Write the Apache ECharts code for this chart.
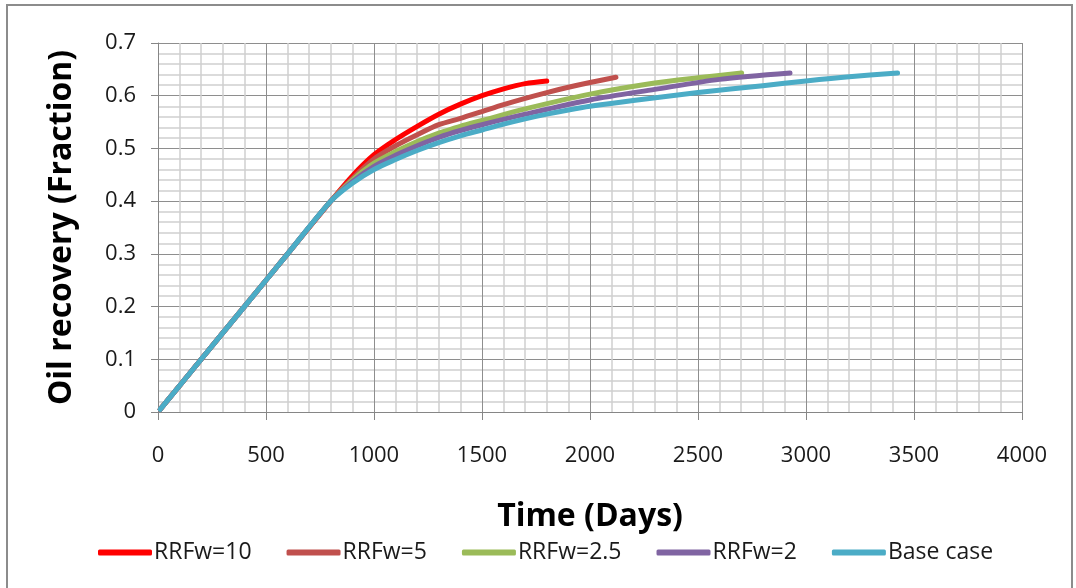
<!DOCTYPE html>
<html><head><meta charset="utf-8">
<script src="https://cdn.jsdelivr.net/npm/echarts@6/dist/echarts.min.js"></script>
<style>html,body{margin:0;padding:0;background:#fff}#c{width:1076px;height:588px}</style>
</head><body><div id="c"></div>
<script>
const seriesNames = ['RRFw=10','RRFw=5','RRFw=2.5','RRFw=2','Base case'];
const colors = ['#FF0000','#C0504D','#9BBB59','#8064A2','#4BACC6'];
const xTicks = [0,500,1000,1500,2000,2500,3000,3500,4000];
const yTicks = [0,0.1,0.2,0.3,0.4,0.5,0.6,0.7];

const daysRRF10 = [10,200,400,600,800,900,1000,1100,1200,1300,1400,1500,1600,1700,1800];
const recRRF10  = [0.005,0.1,0.2,0.3,0.4,0.448,0.488,0.517,0.542,0.565,0.584,0.600,0.613,0.623,0.628];
const daysRRF5 = [10,200,400,600,800,900,1000,1100,1200,1300,1400,1500,1600,1700,1800,1900,2000,2120];
const recRRF5  = [0.005,0.1,0.2,0.3,0.4,0.443,0.48,0.505,0.526,0.545,0.557,0.570,0.583,0.595,0.606,0.616,0.625,0.635];
const daysRRF25 = [10,200,400,600,800,900,1000,1100,1200,1300,1400,1500,1700,2000,2300,2500,2702];
const recRRF25  = [0.005,0.1,0.2,0.3,0.4,0.44,0.472,0.494,0.513,0.529,0.542,0.553,0.575,0.603,0.624,0.634,0.643];
const daysRRF2 = [10,200,400,600,800,900,1000,1100,1200,1300,1400,1500,1700,2000,2300,2600,2926];
const recRRF2  = [0.005,0.1,0.2,0.3,0.4,0.437,0.466,0.487,0.505,0.521,0.534,0.545,0.565,0.592,0.612,0.631,0.643];
const daysBase = [10,200,400,600,800,900,1000,1100,1200,1300,1400,1500,1600,1700,1800,1900,2000,2200,2500,2800,3000,3200,3424];
const recBase  = [0.005,0.1,0.2,0.3,0.4,0.434,0.46,0.479,0.496,0.511,0.524,0.535,0.546,0.556,0.565,0.573,0.580,0.591,0.606,0.619,0.628,0.636,0.643];

const allDays = [daysRRF10, daysRRF5, daysRRF25, daysRRF2, daysBase];
const allRec = [recRRF10, recRRF5, recRRF25, recRRF2, recBase];

const chart = echarts.init(document.getElementById('c'), null, {renderer:'canvas'});
const series = seriesNames.map((n,i)=>({
  name:n, type:'line', data: allDays[i].map((d,j)=>[d, allRec[i][j]]),
  showSymbol:false, smooth:0.3, lineStyle:{width:5, color:colors[i], cap:'round', join:'round'},
  itemStyle:{color:colors[i]}, z: 2+i
}));
const tickFont = {fontFamily:'Open Sans', fontSize:22, color:'#1a1a1a'};
chart.setOption({
  animation:false,
  graphic:[{type:'rect', shape:{x:7,y:5,width:1065,height:590}, style:{fill:'none', stroke:'#8c8c8c', lineWidth:2}, silent:true}],
  grid:{left:158, right:54, top:43, bottom:176, containLabel:false},
  xAxis:{type:'value', min:0, max:4000, interval:500,
    name:'Time (Days)', nameLocation:'middle', nameGap:89,
    nameTextStyle:{fontFamily:'Open Sans', fontWeight:'bold', fontSize:32, color:'#000'},
    axisLine:{show:true, lineStyle:{color:'#868686', width:1}},
    axisTick:{show:true, length:8, inside:false, lineStyle:{color:'#868686'}},
    axisLabel:{...tickFont, margin:33, formatter:v=>String(v)},
    splitLine:{show:true, lineStyle:{color:'#8e8e8e', width:1}},
    minorTick:{show:false, splitNumber:5},
    minorSplitLine:{show:true, lineStyle:{color:'#cfcfcf', width:1.5}}
  },
  yAxis:{type:'value', min:0, max:0.7, interval:0.1,
    name:'Oil recovery (Fraction)', nameLocation:'middle', nameGap:80,
    nameTextStyle:{fontFamily:'Open Sans', fontWeight:'bold', fontSize:32, color:'#000'},
    axisLine:{show:true, lineStyle:{color:'#868686', width:1}},
    axisTick:{show:true, length:7, lineStyle:{color:'#868686'}},
    axisLabel:{...tickFont, margin:22, formatter:v=>String(Math.round(v*10)/10)},
    splitLine:{show:true, lineStyle:{color:'#8e8e8e', width:1}},
    minorTick:{show:false, splitNumber:5},
    minorSplitLine:{show:true, lineStyle:{color:'#cfcfcf', width:1.5}}
  },
  legend:{left:93, top:536, itemWidth:54, itemHeight:6, itemGap:35, icon:'roundRect',
    textStyle:{fontFamily:'Open Sans', fontSize:23, color:'#1a1a1a', padding:[0,0,0,-3]},
    data:seriesNames},
  series
});
</script></body></html>
